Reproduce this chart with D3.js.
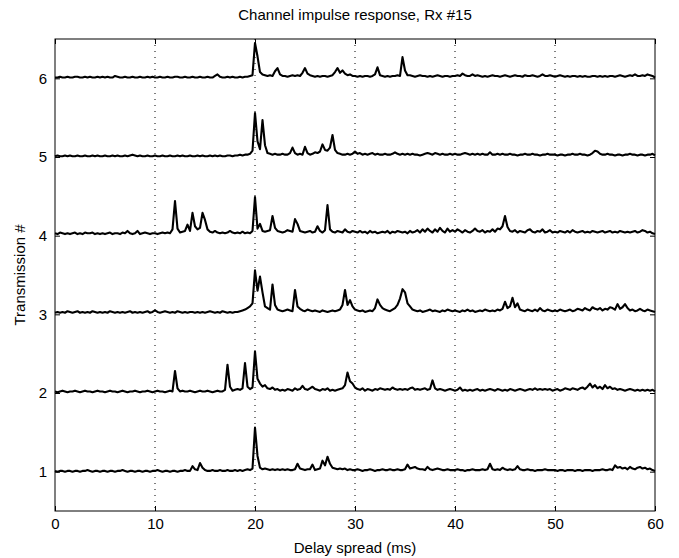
<!DOCTYPE html>
<html lang="en">
<head>
	<meta charset="UTF-8">
	<title>Channel impulse response</title>
	<script src="https://d3js.org/d3.v7.min.js"></script>
	<style>
		* { margin: 0px; padding: 0px; }
		body { background: #fff; }
		text { font-family: "Liberation Sans", Arial, Helvetica, sans-serif; }
	</style>
</head>
<body>
	<svg width="679" height="558"></svg>
	<script>
		// delay axis sampled every 0.25 ms, 0..60 ms (241 samples)
		var step = 0.25;
		var xTicks = [0, 10, 20, 30, 40, 50, 60];
		var yTicks = [1, 2, 3, 4, 5, 6];
		var gridX = [10, 20, 30, 40, 50];

		// amplitudes in hundredths, offset by transmission number
		var tx1 = [
			1,0,1,1,0,1,1,0,1,1,0,1,1,2,1,0,1,1,0,1,
			1,0,1,1,0,1,1,2,1,0,1,1,0,1,1,0,1,1,0,1,
			1,2,1,0,1,1,0,1,1,0,1,1,2,1,1,7,3,2,11,5,
			2,1,1,2,1,1,2,1,1,2,1,1,2,1,2,1,2,3,2,4,
			56,20,5,3,4,3,2,3,2,3,2,3,2,3,2,2,3,10,4,3,
			2,3,3,9,2,3,4,14,8,19,10,5,4,3,4,3,4,2,3,2,
			2,3,2,1,2,2,3,2,1,2,2,3,2,2,3,2,2,3,2,2,
			3,9,4,5,6,4,3,3,2,6,3,2,3,4,3,2,2,3,2,2,
			2,3,2,2,1,2,2,3,2,2,2,3,2,3,10,3,2,3,2,5,
			3,2,3,2,3,7,3,2,2,3,2,2,1,2,2,2,3,2,2,2,
			2,1,2,2,1,2,2,2,1,2,2,1,2,2,2,1,2,2,2,3,
			2,2,3,2,8,5,6,4,5,3,6,4,3,5,6,4,5,3,4,2,
			1
		];
		var tx2 = [
			2,1,2,3,2,1,2,2,3,2,1,2,3,2,2,1,2,3,2,2,
			1,2,3,2,2,1,2,3,2,1,2,2,3,2,1,2,2,3,2,1,
			2,3,2,2,1,2,3,2,28,6,2,3,2,2,3,2,1,2,3,2,
			2,3,2,1,2,3,2,2,4,36,8,3,4,5,4,6,38,8,5,7,
			53,18,12,8,10,6,5,7,4,5,3,4,3,5,4,3,6,4,5,9,
			5,4,6,8,5,4,3,5,4,6,3,4,3,4,5,6,10,26,15,12,
			7,5,4,6,3,5,4,3,5,4,6,5,4,5,4,7,5,4,5,4,
			5,4,6,7,4,5,4,5,6,4,5,16,6,4,5,4,3,4,5,4,
			3,4,7,3,4,3,4,3,4,5,3,4,3,4,5,4,3,5,4,3,
			4,3,5,4,3,4,5,4,3,4,5,4,6,4,5,4,5,4,5,3,
			4,5,3,4,6,5,4,6,5,4,6,7,5,8,12,7,10,6,8,5,
			10,6,8,5,6,4,5,4,3,4,5,4,3,4,3,4,3,4,3,4,
			2
		];
		var tx3 = [
			2,3,2,3,2,4,3,2,3,4,2,3,2,3,2,4,3,2,3,2,
			3,2,4,3,2,3,2,3,2,3,4,2,3,2,3,2,3,4,2,3,
			5,3,2,3,4,3,2,3,2,4,3,2,3,2,3,3,2,3,2,3,
			2,3,4,3,2,3,2,4,3,2,3,2,3,3,4,5,6,8,10,14,
			56,30,48,28,10,8,6,38,12,6,5,4,5,6,5,4,31,10,7,5,
			4,6,5,4,5,4,3,5,4,3,4,5,4,5,6,12,31,12,18,10,
			6,5,4,5,3,4,5,4,8,19,12,8,6,5,4,6,8,12,20,32,
			28,14,10,6,5,4,5,3,4,5,6,4,5,4,3,5,4,6,5,4,
			5,4,3,5,4,6,4,5,3,4,5,4,6,5,4,5,4,6,5,7,
			16,8,10,21,9,14,6,5,4,6,5,4,6,4,8,5,4,6,5,4,
			5,4,6,5,4,5,6,4,5,7,6,5,8,6,5,9,7,6,8,5,
			7,6,9,8,6,13,7,9,13,8,5,6,4,5,7,5,4,6,5,4,
			3
		];
		var tx4 = [
			3,2,4,3,2,3,2,3,4,2,3,2,4,3,3,4,2,3,2,3,
			2,3,4,2,3,3,2,4,3,6,3,2,3,6,2,3,4,3,2,3,
			3,2,3,4,3,4,3,8,44,9,4,5,6,14,6,29,12,8,10,29,
			20,8,5,4,6,4,3,4,3,4,6,4,3,4,3,5,3,4,3,6,
			49,9,15,6,5,6,7,25,10,6,5,4,5,7,6,5,21,15,6,5,
			4,5,6,4,5,12,6,4,7,39,8,5,4,6,5,4,8,5,4,6,
			5,4,6,4,5,3,6,4,5,3,4,5,4,6,3,5,4,6,5,4,
			5,3,6,4,5,7,4,8,5,9,6,4,8,5,10,6,4,9,5,7,
			5,8,6,4,7,5,4,6,9,6,5,7,4,6,5,8,5,9,8,12,
			25,11,6,5,7,4,6,5,4,7,8,5,4,6,5,8,4,5,7,4,
			5,4,6,5,4,6,4,7,5,4,5,6,4,5,4,6,5,4,5,6,
			4,5,6,4,5,4,6,5,4,5,4,5,6,4,5,7,6,4,5,3,
			2
		];
		var tx5 = [
			1,2,1,1,2,1,2,1,1,2,1,1,2,1,1,2,1,2,1,1,
			2,1,1,2,1,2,1,1,2,1,2,3,2,1,2,1,1,2,1,1,
			2,1,1,2,1,1,2,1,1,2,1,2,1,1,2,1,1,2,1,2,
			1,1,2,1,2,1,2,1,1,2,2,1,2,2,3,2,3,3,4,8,
			56,20,10,47,15,5,4,3,4,3,3,4,3,3,5,12,5,3,4,3,
			13,5,3,4,6,5,7,16,9,8,12,28,9,5,4,3,3,4,3,4,
			7,4,5,3,4,3,4,5,3,4,3,3,4,3,3,4,6,4,3,4,
			3,4,3,4,3,3,2,3,4,5,4,3,5,4,3,4,3,3,4,3,
			4,3,3,4,5,4,3,4,3,4,3,4,3,3,6,3,3,4,3,4,
			3,3,4,3,3,2,3,3,4,3,3,4,3,3,2,3,3,4,3,3,
			3,2,3,3,2,3,3,4,3,3,4,3,3,2,3,5,8,7,4,3,
			3,4,3,3,2,3,3,2,3,3,4,3,3,2,3,3,2,3,3,4,
			2
		];
		var tx6 = [
			1,1,2,1,1,2,1,1,2,2,1,1,2,1,2,1,1,2,1,2,
			1,2,1,1,3,2,1,1,2,1,1,2,1,1,2,1,1,2,1,2,
			1,1,2,1,1,2,1,1,2,2,1,1,2,1,1,2,1,1,2,1,
			1,2,1,1,3,5,2,1,1,2,1,2,1,1,2,1,2,2,3,4,
			45,28,8,5,4,3,4,3,9,13,5,3,3,2,3,4,3,4,3,7,
			13,6,4,3,2,3,2,3,3,2,3,4,8,13,7,10,6,4,5,3,
			3,2,3,2,3,3,2,3,5,14,4,3,2,3,2,3,3,4,3,27,
			10,4,4,3,2,3,4,3,3,2,3,2,3,4,3,2,3,3,2,3,
			3,4,3,6,4,3,3,5,3,4,3,2,3,2,3,4,3,3,2,3,
			4,3,2,3,4,3,3,2,4,3,3,4,3,2,3,5,3,3,4,3,
			2,3,4,3,2,3,2,3,3,2,3,2,3,2,2,3,3,2,3,2,
			3,2,3,3,2,3,4,3,2,3,4,3,5,3,3,4,3,5,4,3,
			1
		];
		var traces = [tx1, tx2, tx3, tx4, tx5, tx6];

		var svg = d3.select("svg");
		var plotL = 55, plotR = 655, plotT = 39, plotB = 511;

		var x = d3.scaleLinear().domain([0, 60]).range([plotL, plotR]);
		var y = d3.scaleLinear().domain([0.5, 6.5]).range([plotB, plotT]);

		// dotted grid
		svg.append("g")
			.selectAll("line")
			.data(gridX)
			.enter()
			.append("line")
			.attr("x1", d => x(d)).attr("x2", d => x(d))
			.attr("y1", plotT).attr("y2", plotB)
			.attr("stroke", "#000")
			.attr("stroke-width", 1)
			.attr("stroke-dasharray", "1,5");

		// traces
		var line = d3.line()
			.x((d, i) => x(i * step))
			.y(d => y(d.v));

		svg.append("g")
			.selectAll("path")
			.data(traces.map((t, k) => t.map(v => ({ v: k + 1 + v / 100 }))))
			.enter()
			.append("path")
			.attr("d", line)
			.attr("fill", "none")
			.attr("stroke", "#000")
			.attr("stroke-width", 2.1)
			.attr("stroke-linejoin", "round");

		// axes, MATLAB style ticks pointing inward
		function style(g) {
			g.select(".domain").remove();
			g.selectAll(".tick line").attr("stroke", "#000");
			g.selectAll(".tick text").attr("font-size", 15).attr("fill", "#000")
				.attr("font-family", "\"Liberation Sans\", Arial, sans-serif");
		}

		var fmt = d3.format("d");
		svg.append("g")
			.attr("transform", "translate(0," + plotB + ")")
			.call(d3.axisBottom(x).tickValues(xTicks).tickFormat(fmt).tickSize(-5).tickPadding(7))
			.call(style);
		svg.append("g")
			.attr("transform", "translate(0," + plotT + ")")
			.call(d3.axisTop(x).tickValues(xTicks).tickSize(-5).tickFormat(""))
			.call(style);
		svg.append("g")
			.attr("transform", "translate(" + plotL + ",0)")
			.call(d3.axisLeft(y).tickValues(yTicks).tickFormat(fmt).tickSize(-5).tickPadding(8))
			.call(style);
		svg.append("g")
			.attr("transform", "translate(" + plotR + ",0)")
			.call(d3.axisRight(y).tickValues(yTicks).tickSize(-5).tickFormat(""))
			.call(style);

		svg.append("rect")
			.attr("x", plotL).attr("y", plotT)
			.attr("width", plotR - plotL).attr("height", plotB - plotT)
			.attr("fill", "none")
			.attr("stroke", "#000")
			.attr("stroke-width", 1);

		// labels
		svg.append("text")
			.attr("x", (plotL + plotR) / 2).attr("y", 20)
			.attr("text-anchor", "middle")
			.attr("font-size", 15)
			.text("Channel impulse response, Rx #15");
		svg.append("text")
			.attr("x", (plotL + plotR) / 2).attr("y", 553)
			.attr("text-anchor", "middle")
			.attr("font-size", 15)
			.text("Delay spread (ms)");
		svg.append("text")
			.attr("transform", "translate(25," + (plotT + plotB) / 2 + ") rotate(-90)")
			.attr("text-anchor", "middle")
			.attr("font-size", 15)
			.text("Transmission #");
	</script>
</body>
</html>
